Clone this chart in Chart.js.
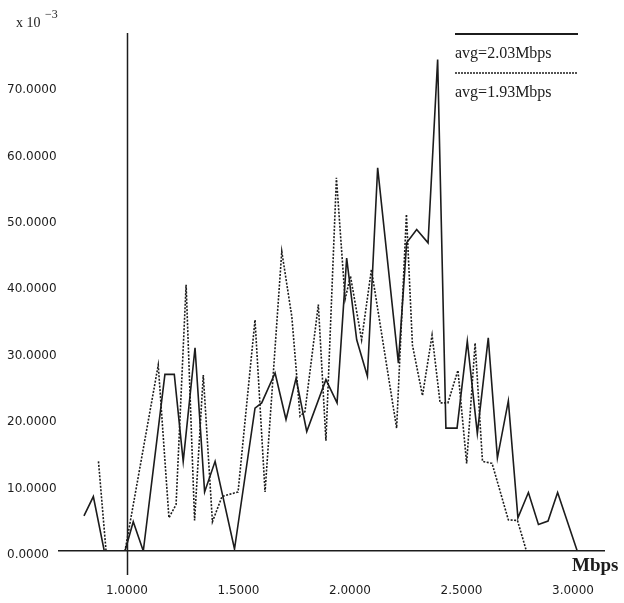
<!DOCTYPE html>
<html lang="en">
<head>
    <meta charset="UTF-8">
    <title>Throughput distribution</title>
    <style>
        html, body { margin: 0; padding: 0; background: #fff; }
        #wrap { width: 624px; height: 603px; }
    </style>
</head>
<body>
    <div id="wrap">
        <canvas id="myChart"></canvas>
    </div>
    <script src="https://cdn.jsdelivr.net/npm/chart.js"></script>
    <script>
        // series 1 (solid) : Mbps / value x 10^-3
        const solidX = [0.807, 0.849, 0.898, 0.991, 1.028, 1.073, 1.170, 1.212, 1.252, 1.305,
                        1.348, 1.395, 1.482, 1.574, 1.604, 1.664, 1.713, 1.758, 1.806, 1.892,
                        1.942, 1.985, 2.030, 2.078, 2.124, 2.217, 2.254, 2.299, 2.350, 2.393,
                        2.430, 2.480, 2.526, 2.571, 2.620, 2.661, 2.710, 2.753, 2.800, 2.845,
                        2.888, 2.931, 3.019];
        const solidY = [5.3, 8.2, 0, 0, 4.4, 0, 26.6, 26.6, 13.5, 30.6,
                        8.9, 13.5, 0.3, 21.5, 22.3, 26.8, 19.8, 26.0, 18.0, 25.8,
                        22.3, 44.1, 31.8, 26.3, 57.7, 28.3, 46.4, 48.4, 46.4, 74.0,
                        18.5, 18.5, 31.6, 17.7, 32.1, 14.0, 22.6, 5.0, 8.8, 4.0,
                        4.5, 8.8, 0];

        // series 2 (dashed)
        const dashX = [0.872, 0.906, 0.991, 1.140, 1.188, 1.220, 1.265, 1.303, 1.342, 1.383,
                       1.426, 1.498, 1.574, 1.619, 1.694, 1.739, 1.776, 1.798, 1.858, 1.892,
                       1.939, 1.978, 2.002, 2.052, 2.096, 2.209, 2.253, 2.280, 2.325, 2.368,
                       2.404, 2.439, 2.484, 2.523, 2.561, 2.594, 2.637, 2.710, 2.751, 2.791];
        const dashY = [13.5, 0, 0, 28.0, 5.0, 7.0, 40.1, 4.6, 26.5, 4.4,
                       8.2, 8.9, 34.8, 8.9, 45.1, 35.3, 20.3, 21.0, 37.1, 16.6,
                       56.2, 37.9, 41.4, 31.8, 42.4, 18.5, 50.7, 31.0, 23.4, 32.5,
                       22.3, 22.3, 27.2, 13.2, 31.3, 13.5, 13.2, 4.7, 4.6, 0];

        const seriesLabels = ['avg=2.03Mbps', 'avg=1.93Mbps'];
        const xTicks = [1.0, 1.5, 2.0, 2.5, 3.0];
        const yTicks = [0, 10, 20, 30, 40, 50, 60, 70];

        const ink = '#1c1c1c';
        const toPts = (xs, ys) => xs.map((x, i) => ({ x: x, y: ys[i] }));

        // vertical axis at 1.0, legend, unit labels
        const decor = {
            id: 'decor',
            afterDraw(chart) {
                const c = chart.ctx;
                const area = chart.chartArea;
                const xs = chart.scales.x;
                c.save();
                c.strokeStyle = ink;
                c.lineWidth = 1.5;
                const vx = Math.round(xs.getPixelForValue(1.0)) + 0.5;
                c.beginPath();
                c.moveTo(vx, area.top);
                c.lineTo(vx, area.bottom + 24);
                c.stroke();

                // legend
                c.fillStyle = ink;
                c.font = '16px "Liberation Serif"';
                c.textBaseline = 'alphabetic';
                c.lineWidth = 2;
                c.beginPath();
                c.moveTo(455, 34); c.lineTo(578, 34);
                c.stroke();
                c.fillText(seriesLabels[0], 455, 58);
                c.setLineDash([2, 1]);
                c.lineWidth = 1.5;
                c.beginPath();
                c.moveTo(455, 73); c.lineTo(578, 73);
                c.stroke();
                c.setLineDash([]);
                c.fillText(seriesLabels[1], 455, 97);

                // unit labels
                c.font = 'bold 19px "Liberation Serif"';
                c.fillText('Mbps', 572, 571);
                c.font = '14px "Liberation Serif"';
                c.fillText('x 10', 16, 27);
                c.font = '12px "Liberation Serif"';
                c.fillText('\u22123', 45, 18);
                c.restore();
            }
        };

        const ctx = document.querySelector('#myChart');
        const myChart = new Chart(ctx, {
            type: 'line',
            data: {
                datasets: [
                    {
                        label: seriesLabels[0],
                        data: toPts(solidX, solidY),
                        borderColor: ink,
                        borderWidth: 1.6,
                        pointRadius: 0,
                        tension: 0
                    },
                    {
                        label: seriesLabels[1],
                        data: toPts(dashX, dashY),
                        borderColor: ink,
                        borderWidth: 1.6,
                        borderDash: [2, 1.5],
                        pointRadius: 0,
                        tension: 0
                    }
                ]
            },
            options: {
                responsive: true,
                maintainAspectRatio: false,
                animation: false,
                layout: { padding: { left: 7, right: 20, top: 33, bottom: 0 } },
                plugins: {
                    legend: { display: false },
                    tooltip: { enabled: false }
                },
                scales: {
                    x: {
                        type: 'linear',
                        min: 0.695,
                        max: 3.139,
                        afterBuildTicks: (axis) => { axis.ticks = xTicks.map(v => ({ value: v })); },
                        afterFit: (axis) => {
                            axis.height = 52;
                            axis.paddingLeft = 0;
                            axis.paddingRight = 0;
                        },
                        grid: { display: false, drawTicks: false },
                        border: { display: true, color: ink, width: 1.5 },
                        ticks: {
                            padding: 33,
                            color: ink,
                            font: { family: 'DejaVu Sans', size: 12 },
                            maxRotation: 0,
                            callback: (v) => Number(v).toFixed(4)
                        }
                    },
                    y: {
                        min: 0,
                        max: 78,
                        afterBuildTicks: (axis) => { axis.ticks = yTicks.map(v => ({ value: v })); },
                        afterFit: (axis) => { axis.width = 52; },
                        grid: { display: false, drawTicks: false },
                        border: { display: false },
                        ticks: {
                            crossAlign: 'far',
                            padding: 0,
                            labelOffset: 4,
                            color: ink,
                            font: { family: 'DejaVu Sans', size: 12 },
                            callback: (v) => Number(v).toFixed(4)
                        }
                    }
                }
            },
            plugins: [decor]
        });
    </script>
</body>
</html>
